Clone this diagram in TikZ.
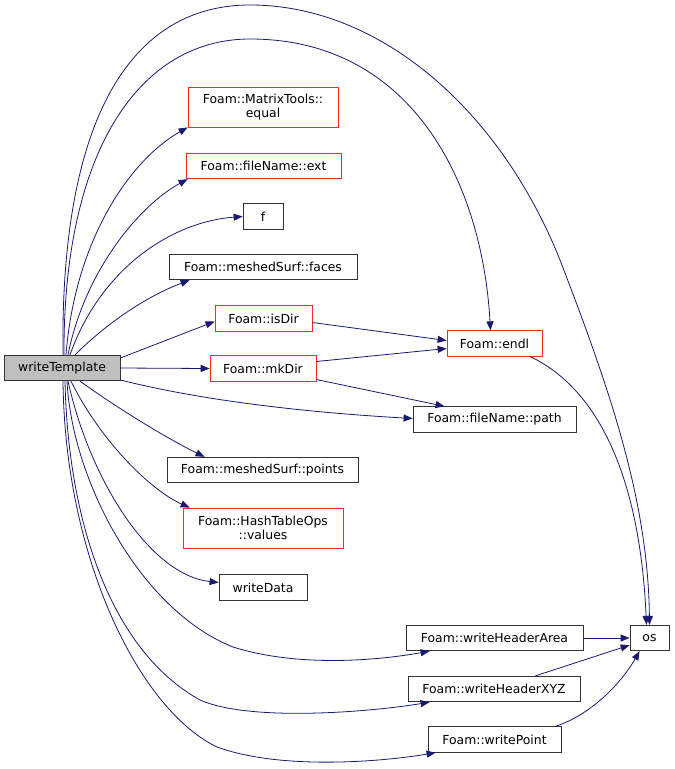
\documentclass[tikz,border=0pt]{standalone}
\usepackage{fontspec}
\setmainfont{DejaVu Sans}
\usetikzlibrary{arrows.meta,calc}
\definecolor{edgeblue}{HTML}{191970}
\definecolor{nodegray}{HTML}{BFBFBF}

\begin{document}
\begin{tikzpicture}[
  x=1pt,y=-1pt,
  font=\fontsize{12.4}{14}\selectfont,
  fn/.style={draw=black!80,fill=white,inner sep=0pt,minimum height=25.5pt,align=center,line width=0.8pt},
  redfn/.style={fn,draw=red!85},
  edge/.style={draw=edgeblue,line width=0.8pt,-{Triangle[length=9pt,width=7pt,fill=edgeblue]}}
]
\useasboundingbox (0,0) rectangle (675,769);

\node[fn,fill=nodegray,minimum width=116pt] (wt) at (62,368) {writeTemplate};
\node[redfn,minimum width=150pt,minimum height=40pt] (eq) at (263,107) {Foam::MatrixTools::\\equal};
\node[redfn,minimum width=155pt] (ext) at (263.5,166) {Foam::fileName::ext};
\node[fn,minimum width=40pt] (f) at (263,216.5) {f};
\node[fn,minimum width=188pt] (faces) at (263,267) {Foam::meshedSurf::faces};
\node[redfn,minimum width=97pt] (isdir) at (263.5,318.5) {Foam::isDir};
\node[redfn,minimum width=106pt] (mkdir) at (263,368.5) {Foam::mkDir};
\node[fn,minimum width=191pt] (points) at (262.5,470) {Foam::meshedSurf::points};
\node[redfn,minimum width=160pt,minimum height=40pt] (values) at (263,528) {Foam::HashTableOps\\::values};
\node[fn,minimum width=88pt] (wdata) at (263,587.5) {writeData};
\node[redfn,minimum width=95pt] (endl) at (494.5,343.5) {Foam::endl};
\node[fn,minimum width=163pt] (path) at (494.5,419.5) {Foam::fileName::path};
\node[fn,minimum width=177pt] (wha) at (494.5,638) {Foam::writeHeaderArea};
\node[fn,minimum width=172pt] (whx) at (494,689) {Foam::writeHeaderXYZ};
\node[fn,minimum width=133pt] (wp) at (494.5,739.5) {Foam::writePoint};
\node[fn,minimum width=39pt] (os) at (649.5,638) {os};

% calls from writeTemplate
\draw[edge] ($(wt.north)+(1,0)$) .. controls (60,120) and (130,5) .. (250,5)
  .. controls (380,5) and (500,110) .. (560,260)
  .. controls (610,390) and (648,500) .. (os.north);
\draw[edge] ($(wt.north)+(2,0)$) .. controls (63,150) and (140,39) .. (250,39)
  .. controls (410,39) and (482,180) .. ($(endl.north)+(-4,0)$);
\draw[edge] ($(wt.north)+(4,0)$) .. controls (75,240) and (130,160) .. (eq.south west);
\draw[edge] ($(wt.north)+(6,0)$) .. controls (85,270) and (140,205) .. ($(ext.south west)+(2,0)$);
\draw[edge] ($(wt.north)+(8,0)$) .. controls (100,270) and (170,222) .. (f.west);
\draw[edge] ($(wt.north)+(13,0)$) .. controls (110,320) and (150,295) .. ($(faces.south west)+(21,0)$);
\draw[edge] ($(wt.east)+(0,-10)$) -- ($(isdir.west)+(0,3)$);
\draw[edge] (wt.east) -- (mkdir.west);
\draw[edge] ($(wt.east)+(0,12)$) .. controls (200,400) and (300,412) .. ($(path.west)+(0,-1)$);
\draw[edge] ($(wt.south)+(18,0)$) .. controls (120,410) and (170,440) .. ($(points.north west)+(38,0)$);
\draw[edge] ($(wt.south)+(9,0)$) .. controls (100,440) and (150,490) .. ($(values.north west)+(7,0)$);
\draw[edge] ($(wt.south)+(6,0)$) .. controls (90,480) and (150,575) .. ($(wdata.west)+(0,-5)$);
\draw[edge] ($(wt.south)+(5,0)$) .. controls (72,480) and (140,610) .. (233,647)
  .. controls (300,668) and (380,660) .. ($(wha.south west)+(24,0)$);
\draw[edge] ($(wt.south)+(3,0)$) .. controls (68,520) and (110,650) .. (200,700)
  .. controls (250,722) and (370,712) .. ($(whx.south west)+(22,0)$);
\draw[edge] ($(wt.south)+(1,0)$) .. controls (65,560) and (140,710) .. (217,747)
  .. controls (280,770) and (380,762) .. ($(wp.south west)+(8,0)$);

% second level
\draw[edge] ($(isdir.east)+(0,4)$) -- ($(endl.west)+(0,-3)$);
\draw[edge] ($(mkdir.east)+(0,-7)$) -- ($(endl.west)+(0,5)$);
\draw[edge] ($(mkdir.east)+(0,11)$) -- ($(path.north west)+(32,0)$);
\draw[edge] ($(endl.south east)+(-12,0)$) .. controls (600,390) and (640,480) .. ($(os.north)+(-3,0)$);
\draw[edge] (wha.east) -- (os.west);
\draw[edge] ($(whx.north east)+(-45,0)$) -- ($(os.south west)+(0,-6)$);
\draw[edge] ($(wp.north east)+(-6,0)$) .. controls (590,715) and (620,685) .. ($(os.south west)+(10,0)$);
\end{tikzpicture}
\end{document}
